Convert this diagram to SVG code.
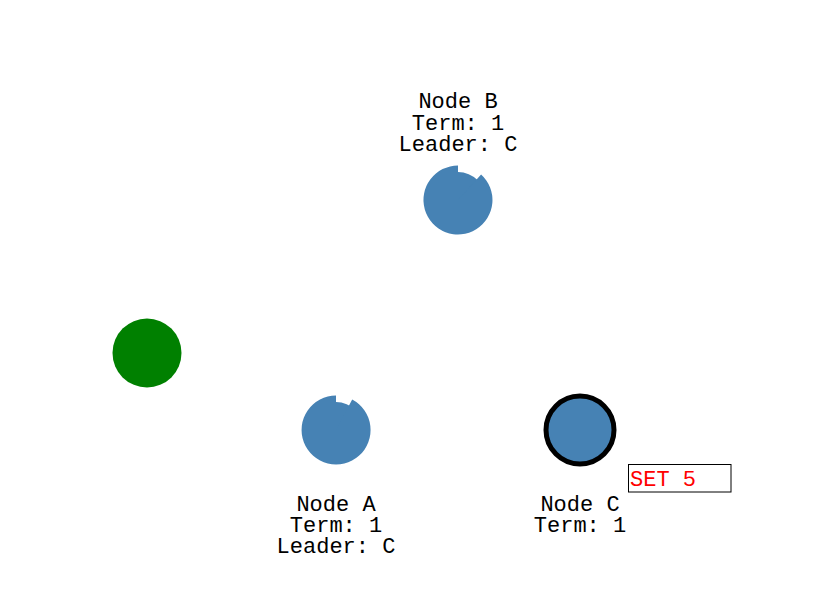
<svg xmlns="http://www.w3.org/2000/svg" width="834" height="607" viewBox="0 0 834 607">
  <style>
    .lbl { font-family: "Liberation Mono", "Courier New", monospace; font-size: 22px; fill: #000; text-anchor: middle; }
    .srv { fill: #4682b4; }
    .timer { fill: #4682b4; }
    .leader { fill: #4682b4; stroke: #000; stroke-width: 5; }
    .msg { font-family: "Liberation Mono", "Courier New", monospace; font-size: 22px; fill: #ff0000; }
  </style>
  <rect width="834" height="607" fill="#ffffff"/>
  <g id="connectors"></g>
  <g id="client">
    <circle cx="147" cy="353" r="34.5" fill="#008000"/>
  </g>
  <g id="node-b">
    <circle class="srv" cx="458" cy="200" r="28"/>
    <path class="timer" d="M458,200 L481.1,174.4 A34.5,34.5 0 1 1 458,165.5 Z"/>
    <text class="lbl" x="458" y="108">Node B</text>
    <text class="lbl" x="458" y="129.5">Term: 1</text>
    <text class="lbl" x="458" y="151">Leader: C</text>
  </g>
  <g id="node-a">
    <circle class="srv" cx="336" cy="430" r="28"/>
    <path class="timer" d="M336,430 L352.2,399.5 A34.5,34.5 0 1 1 336,395.5 Z"/>
    <text class="lbl" x="336" y="511">Node A</text>
    <text class="lbl" x="336" y="532">Term: 1</text>
    <text class="lbl" x="336" y="553">Leader: C</text>
  </g>
  <g id="node-c">
    <circle class="leader" cx="580" cy="430" r="34"/>
    <text class="lbl" x="580" y="511">Node C</text>
    <text class="lbl" x="580" y="532">Term: 1</text>
  </g>
  <g id="set-msg">
    <rect x="628.5" y="464.5" width="102.5" height="27.5" fill="#ffffff" stroke="#000" stroke-width="1"/>
    <text class="msg" x="630" y="485.5">SET 5</text>
  </g>
</svg>
